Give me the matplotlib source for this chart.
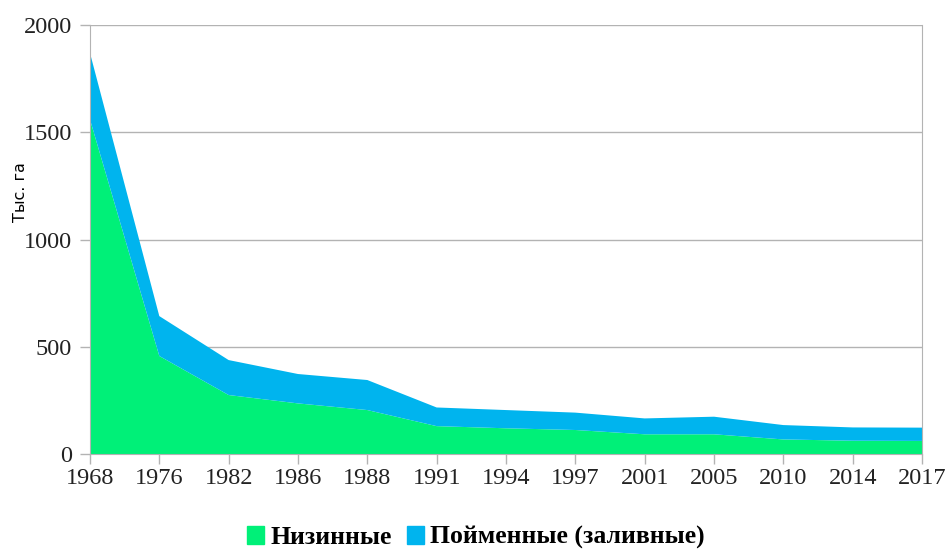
import matplotlib.pyplot as plt
from matplotlib.patches import Patch

# Data (thousand ha)
years = ['1968', '1976', '1982', '1986', '1988', '1991', '1994',
         '1997', '2001', '2005', '2010', '2014', '2017']
lowland = [1560, 457, 275, 236, 205, 130, 120, 112, 92, 92, 68, 62, 61]
floodplain = [310, 186, 163, 137, 140, 87, 85, 81, 74, 82, 67, 62, 62]

green = '#00f078'
blue = '#00b4ee'

fig = plt.figure(figsize=(9.52, 5.51), dpi=100)
ax = fig.add_axes([0.0945, 0.176, 0.874, 0.7786])

x = list(range(len(years)))
ax.stackplot(x, lowland, floodplain, colors=[green, blue], linewidth=0)

ax.set_xlim(0, len(years) - 1)
ax.set_ylim(0, 2000)
ax.set_yticks([0, 500, 1000, 1500, 2000])
ax.set_xticks(x)
ax.set_xticklabels(years)
ax.grid(axis='y', color='#b3b3b3', linewidth=1)
ax.set_axisbelow(True)

ax.spines['top'].set_visible(False)
for s in ['left', 'bottom', 'right']:
    ax.spines[s].set_color('#b3b3b3')
ax.tick_params(axis='both', color='#b3b3b3', length=7, width=1,
               labelsize=17.5, labelcolor='#222222')
ax.tick_params(axis='y', pad=6)
ax.tick_params(axis='x', pad=3)
for lab in ax.get_xticklabels() + ax.get_yticklabels():
    lab.set_family('Liberation Serif')

ax.set_ylabel('Тыс. га', fontsize=11.5, family='DejaVu Sans')
ax.yaxis.set_label_coords(-0.074, 0.61)

handles = [Patch(color=green, label='Низинные'),
           Patch(color=blue, label='Пойменные (заливные)')]
fig.legend(handles=handles, loc='center', bbox_to_anchor=(0.5, 0.024),
           ncol=2, frameon=False, handlelength=0.65, handleheight=0.65,
           handletextpad=0.25, columnspacing=0.6,
           prop={'family': 'Liberation Serif', 'weight': 'bold', 'size': 18.5})

fig.savefig('out.png', dpi=100)
